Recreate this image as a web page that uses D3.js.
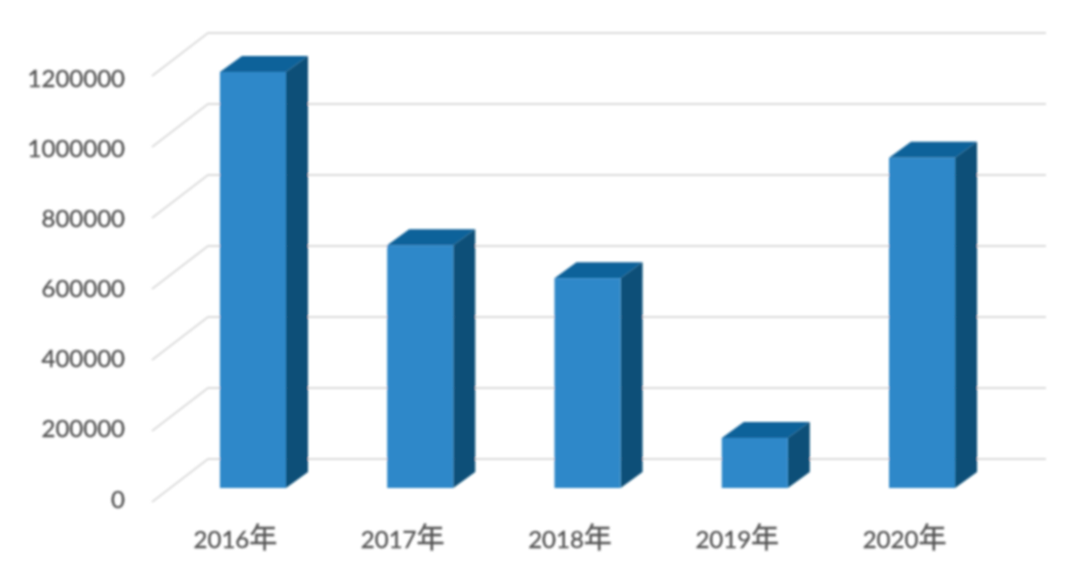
<!DOCTYPE html>
<html>
<head>
<meta charset="utf-8">
<script src="https://d3js.org/d3.v7.min.js"></script>
<style>
  body { margin: 0; background: #fff; }
  text { font-family: Lato, "Noto Sans CJK SC", sans-serif; fill: #555; stroke: #555; stroke-width: 0.35px; }
</style>
</head>
<body>
<div id="chart"></div>
<script>
// chart data
const years = ["2016年", "2017年", "2018年", "2019年", "2020年"];
const values = [1172000, 684000, 591000, 141000, 930000];
const yTicks = [0, 200000, 400000, 600000, 800000, 1000000, 1200000];

const width = 1080;
const height = 569;

// wall offsets from the bar baseline
const wallX0 = 152;
const wallX1 = 208;
const wallX2 = 1046;
const frontDrop = 14;
const backRise = 29;
const barDepthX = 22;
const barDepthY = 16;

const svg = d3.select("#chart")
              .append("svg")
              .attr("width", width)
              .attr("height", height)
              .style("display", "block");

// the reference is a slightly soft screenshot
svg.append("filter")
     .attr("id", "soft")
   .append("feGaussianBlur")
     .attr("stdDeviation", 0.8);

const root = svg.append("g").attr("filter", "url(#soft)");

const xScale = d3.scaleBand()
                 .domain(years)
                 .range([153, 1022])
                 .paddingInner(0.605)
                 .paddingOuter(0.4);

const yScale = d3.scaleLinear()
                 .domain([0, 1200000])
                 .range([488, 62]);

const labelScale = d3.scaleLinear()
                     .domain([0, 1200000])
                     .range([499, 78]);

// Gridlines: side wall and back wall
root.append("g")
    .selectAll("path")
    .data(yTicks)
    .join("path")
      .attr("d", function(d) {
        let y = yScale(d);
        return `M${wallX0},${y + frontDrop} L${wallX1},${y - backRise} L${wallX2},${y - backRise}`;
      })
      .attr("fill", "none")
      .attr("stroke", "#dcdcdc")
      .attr("stroke-width", 2);

// Y-axis labels
root.selectAll(".yLabel")
    .data(yTicks)
    .join("text")
      .attr("class", "yLabel")
      .attr("x", 125)
      .attr("y", d => labelScale(d))
      .attr("dy", "0.36em")
      .attr("text-anchor", "end")
      .style("font-size", "24px")
      .text(d => d);

// Bars: top, side and front faces
const bars = root.selectAll(".bar")
                 .data(years)
                 .join("g")
                   .attr("class", "bar");

bars.append("path")
    .attr("fill", "#11629a")
    .attr("d", function(d, i) {
      let x = xScale(d), w = xScale.bandwidth(), y = yScale(values[i]);
      return `M${x},${y} L${x + barDepthX},${y - barDepthY} L${x + w + barDepthX},${y - barDepthY} L${x + w},${y} Z`;
    });

bars.append("path")
    .attr("fill", "#0b5078")
    .attr("d", function(d, i) {
      let x = xScale(d) + xScale.bandwidth(), y = yScale(values[i]), y0 = yScale(0);
      return `M${x},${y} L${x + barDepthX},${y - barDepthY} L${x + barDepthX},${y0 - barDepthY} L${x},${y0} Z`;
    });

bars.append("rect")
    .attr("fill", "#2e88c9")
    .attr("x", d => xScale(d))
    .attr("width", xScale.bandwidth())
    .attr("y", (d, i) => yScale(values[i]))
    .attr("height", (d, i) => yScale(0) - yScale(values[i]));

// X-axis labels sit left of the bar centres, the 年 glyph is a bit larger
const xLabels = root.selectAll(".xLabel")
                    .data(years)
                    .join("text")
                      .attr("class", "xLabel")
                      .attr("x", d => xScale(d) + xScale.bandwidth() / 2 - 17.5)
                      .attr("y", 548)
                      .attr("text-anchor", "middle")
                      .style("font-size", "24px");

xLabels.append("tspan").text(d => d.slice(0, -1));
xLabels.append("tspan").style("font-size", "28px").text(d => d.slice(-1));
</script>
</body>
</html>
